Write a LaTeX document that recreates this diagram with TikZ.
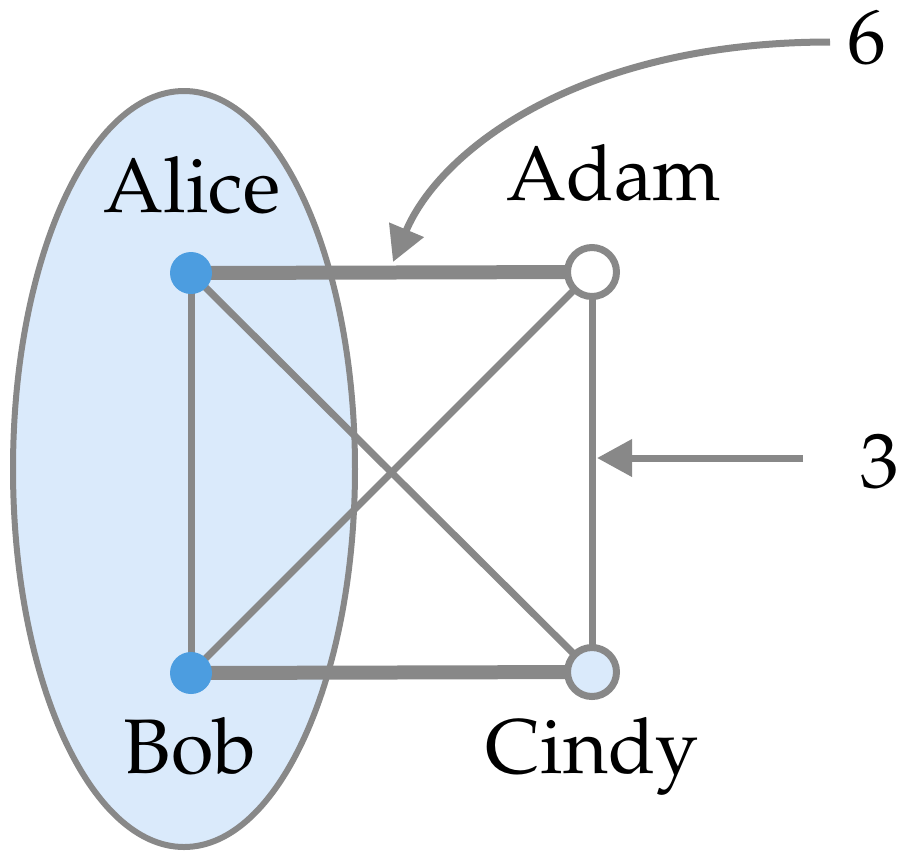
\documentclass[tikz,border=0pt]{standalone}
\usepackage[T1]{fontenc}
\usepackage{mathpazo}
\usetikzlibrary{arrows.meta}

\definecolor{edgegray}{HTML}{888888}
\definecolor{dotblue}{HTML}{4C9DE0}
\definecolor{paleblue}{HTML}{DAEAFB}

\tikzset{
  vert/.style={circle,inner sep=0pt,minimum size=4.2mm},
  ring/.style={vert,draw=edgegray,line width=0.7mm,minimum size=4.9mm},
  tag/.style={anchor=base,font=\fontsize{22}{26}\selectfont},
  edge/.style={edgegray,line width=0.7mm},
  heavy/.style={edgegray,line width=1.4mm},
  pointer/.style={edgegray,line width=0.7mm,-{Triangle[length=3.5mm,width=3.6mm]}}
}

\begin{document}
\begin{tikzpicture}[x=0.1mm,y=-0.1mm]
      \useasboundingbox (0,0) rectangle (905,850);
      % the group around Alice and Bob
      \draw[edgegray,line width=0.6mm,fill=paleblue] (184,469) ellipse (171 and 378);
      \coordinate (alice) at (191,273);
      \coordinate (bob) at (191,673);
      \coordinate (adam) at (592,272);
      \coordinate (cindy) at (592,672);
      \draw[heavy] (alice) -- (adam);
      \draw[heavy] (bob) -- (cindy);
      \draw[edge] (alice) -- (bob);
      \draw[edge] (alice) -- (cindy);
      \draw[edge] (bob) -- (adam);
      \draw[edge] (adam) -- (cindy);
      \node[vert,fill=dotblue] (a) at (alice) {};
      \node[vert,fill=dotblue] (b) at (bob) {};
      \node[ring,fill=white] (d) at (adam) {};
      \node[ring,fill=paleblue] (c) at (cindy) {};
      \node[tag] (la) at (192,212) {Alice};
      \node[tag] (ld) at (614,200) {Adam};
      \node[tag] (lb) at (190,773) {Bob};
      \node[tag] (lc) at (592,773) {Cindy};
      % weights
      \node[tag] (six) at (867,63) {6};
      \node[tag] (three) at (880,487) {3};
      \coordinate (s6) at (830,42);
      \coordinate (s3) at (803,458);
      \coordinate (e6) at (393,262);
      \coordinate (e3) at (597,458);
      \draw[pointer] (s6) .. controls (580,42) and (440,150) .. (e6);
      \draw[pointer] (s3) -- (e3);
    \end{tikzpicture}
\end{document}
